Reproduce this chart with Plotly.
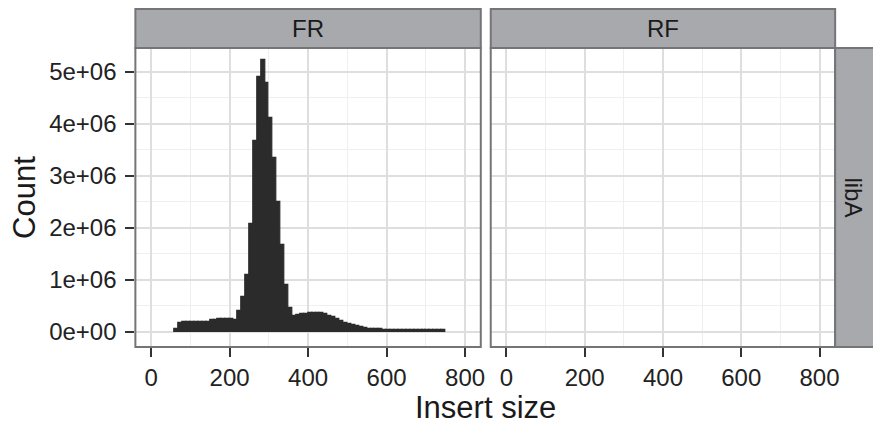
import plotly.graph_objects as go

# ---- data ----
bin_starts = list(range(60, 750, 10))
counts_m = [
    0.06, 0.18, 0.185, 0.19, 0.19, 0.19, 0.19, 0.195, 0.20, 0.22,   # 60-150
    0.22, 0.25, 0.25, 0.25, 0.24, 0.23, 0.40, 0.68, 1.10, 2.07,     # 160-250
    3.67, 4.91, 5.22, 4.79, 4.11, 3.35, 2.50, 1.67, 0.91, 0.46,     # 260-350
    0.31, 0.33, 0.34, 0.35, 0.365, 0.365, 0.365, 0.36, 0.35, 0.31,  # 360-450
    0.28, 0.25, 0.21, 0.18, 0.15, 0.13, 0.11, 0.095, 0.08, 0.065,   # 460-550
    0.06, 0.055, 0.05, 0.035, 0.03, 0.03, 0.03, 0.03, 0.03, 0.03,   # 560-650
    0.03, 0.03, 0.03, 0.03, 0.03, 0.03, 0.03, 0.03, 0.03,           # 660-740
]
binwidth = 10
facet_cols = ["FR", "RF"]
facet_row = "libA"
x_ticks = [0, 200, 400, 600, 800]
y_ticks = [0, 1e6, 2e6, 3e6, 4e6, 5e6]
y_ticklabels = ["0e+00", "1e+06", "2e+06", "3e+06", "4e+06", "5e+06"]
rf_centers = []
rf_counts = []

counts = [c * 1e6 for c in counts_m]
centers = [s + binwidth / 2 for s in bin_starts]

W, H = 873, 427
def px(x): return x / W
def py(y): return 1 - y / H

FONT = "Liberation Sans, Arial, Helvetica, sans-serif"
BORDER = "#757578"
STRIP = "#a8a9ad"
GRID = "#dedee0"
MINOR = "#efeff0"
BAR = "#2b2b2b"

fig = go.Figure()
fig.add_trace(go.Bar(x=centers, y=counts, width=binwidth,
                     marker=dict(color=BAR, line=dict(width=1.2, color=BAR)),
                     xaxis="x", yaxis="y", showlegend=False, hoverinfo="skip"))
fig.add_trace(go.Bar(x=rf_centers, y=rf_counts, width=binwidth,
                     marker=dict(color=BAR), xaxis="x2", yaxis="y2", showlegend=False))

xrange = [-40, 840]
yrange = [-0.29e6, 5.46e6]

panel_top, panel_bot = 48, 347
left_dom = [px(136), px(483)]
right_dom = [px(493), px(839)]
ydom = [py(panel_bot), py(panel_top)]

common_x = dict(range=xrange, tickvals=x_ticks, ticks="outside", ticklen=9, tickwidth=2,
                tickcolor="#333333", showgrid=True, gridcolor=GRID, gridwidth=1.5,
                zeroline=False, showline=False,
                minor=dict(tickvals=[100, 300, 500, 700], showgrid=True, gridcolor=MINOR, gridwidth=1, ticks=""),
                tickfont=dict(family=FONT, size=24, color="#222222"), fixedrange=True)
common_y = dict(range=yrange, tickvals=y_ticks, showgrid=True, gridcolor=GRID, gridwidth=1.5,
                zeroline=False, showline=False,
                minor=dict(tickvals=[0.5e6, 1.5e6, 2.5e6, 3.5e6, 4.5e6], showgrid=True, gridcolor=MINOR, gridwidth=1, ticks=""),
                fixedrange=True)

fig.update_layout(
    width=W, height=H, margin=dict(l=0, r=0, t=0, b=0),
    paper_bgcolor="white", plot_bgcolor="white", bargap=0,
    xaxis=dict(domain=left_dom, anchor="y", **common_x),
    xaxis2=dict(domain=right_dom, anchor="y2", **common_x),
    yaxis=dict(domain=ydom, anchor="x", ticktext=y_ticklabels, ticks="outside", ticklen=9, tickwidth=2,
               tickcolor="#333333", ticklabelstandoff=4,
               tickfont=dict(family=FONT, size=24, color="#222222"), **common_y),
    yaxis2=dict(domain=ydom, anchor="x2", showticklabels=False, ticks="", **common_y),
)

shapes = []
# panel borders
for d in (left_dom, right_dom):
    shapes.append(dict(type="rect", xref="paper", yref="paper", x0=d[0], x1=d[1], y0=ydom[0], y1=ydom[1],
                       line=dict(color=BORDER, width=2), fillcolor="rgba(0,0,0,0)", layer="above"))
# top strips
for d, lab in zip((left_dom, right_dom), facet_cols):
    shapes.append(dict(type="rect", xref="paper", yref="paper", x0=d[0], x1=d[1], y0=ydom[1], y1=py(9),
                       line=dict(color=BORDER, width=2), fillcolor=STRIP, layer="above"))
    fig.add_annotation(x=(d[0] + d[1]) / 2, y=py(28.5), xref="paper", yref="paper", text=lab,
                       showarrow=False, font=dict(family=FONT, size=24, color="#1a1a1a"),
                       xanchor="center", yanchor="middle")
# right strip
shapes.append(dict(type="rect", xref="paper", yref="paper", x0=right_dom[1], x1=px(880), y0=ydom[0], y1=ydom[1],
                   line=dict(color=BORDER, width=2), fillcolor=STRIP, layer="above"))
fig.add_annotation(x=px(857), y=(ydom[0] + ydom[1]) / 2, xref="paper", yref="paper", text=facet_row,
                   textangle=90, showarrow=False, font=dict(family=FONT, size=24, color="#1a1a1a"),
                   xanchor="center", yanchor="middle")
fig.update_layout(shapes=shapes)

# axis titles
fig.add_annotation(x=px(487.5), y=py(407), xref="paper", yref="paper", text="Insert size",
                   showarrow=False, font=dict(family=FONT, size=31, color="#1a1a1a"),
                   xanchor="center", yanchor="middle")
fig.add_annotation(x=px(24), y=py(197), xref="paper", yref="paper", text="Count", textangle=-90,
                   showarrow=False, font=dict(family=FONT, size=31, color="#1a1a1a"),
                   xanchor="center", yanchor="middle")

fig.write_html("out.html")
